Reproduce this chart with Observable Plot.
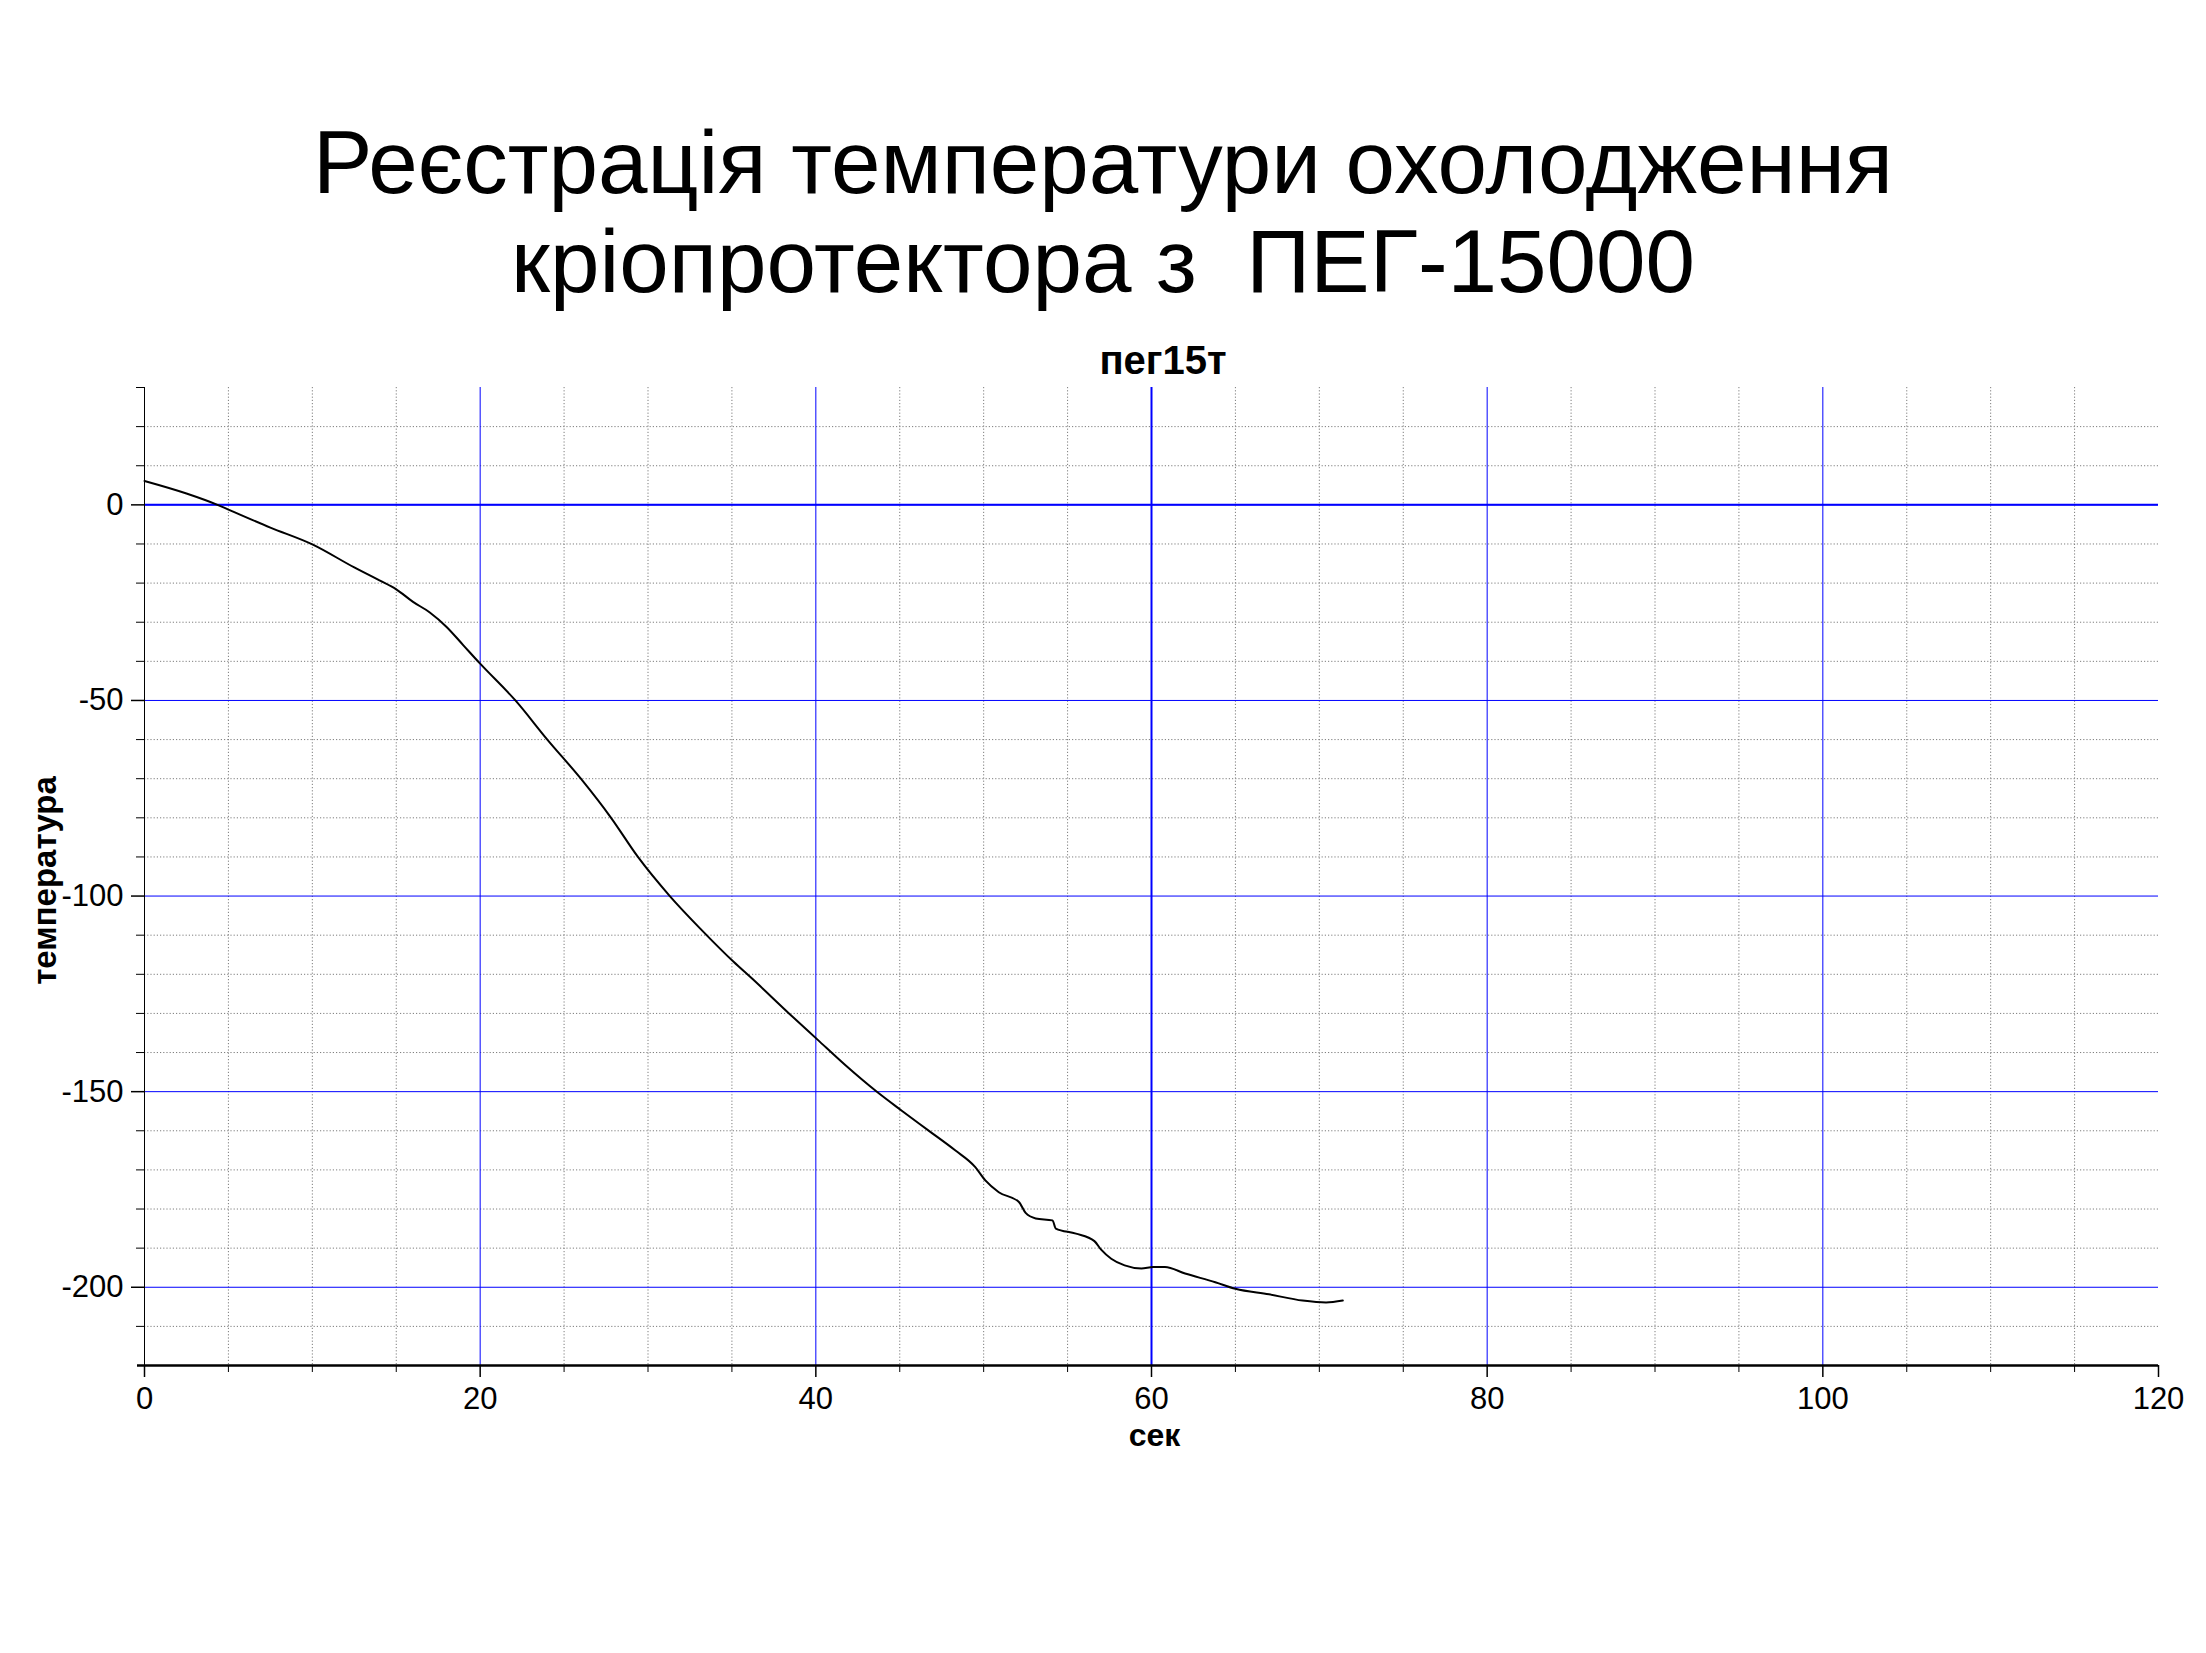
<!DOCTYPE html>
<html>
<head>
<meta charset="utf-8">
<script src="https://cdn.jsdelivr.net/npm/d3@7"></script>
<script src="https://cdn.jsdelivr.net/npm/@observablehq/plot@0.6"></script>
<style>
  html, body { margin: 0; padding: 0; background: #fff; }
  #page { position: relative; width: 2206px; height: 1653px; overflow: hidden; background: #fff; }
  #head { position: relative; height: 380px; }
  .t { position: absolute; left: 0; width: 2206px; text-align: center;
       font-family: "Liberation Sans", Arial, sans-serif; font-size: 89px; line-height: 89px;
       white-space: pre; color: #000; }
  #sub { position: absolute; left: 663px; width: 1000px; top: 340px; text-align: center;
         font-family: "Liberation Sans", Arial, sans-serif; font-weight: bold; font-size: 40px;
         line-height: 40px; color: #000; }
  #chart svg { display: block; }
  #chart svg [aria-label$="tick label"] { font-size: 31px; }
</style>
</head>
<body>
<div id="page">
  <div id="head">
    <div class="t" id="t1" style="top:118px"></div>
    <div class="t" id="t2" style="top:217px"></div>
    <div id="sub"></div>
  </div>
  <div id="chart"></div>
</div>
<script>
// ---- text ----
const titleLine1 = "Реєстрація температури охолодження";
const titleLine2 = "кріопротектора з  ПЕГ-15000";
const subtitle = "пег15т";
const xLabel = "сек";
const yLabel = "температура";

// ---- data: time (s) and temperature ----
const times = [0, 2.5, 4.35, 5, 7.5, 10, 12.5, 14, 15, 16, 17, 18, 19, 20, 22.1, 24, 26, 27.8, 29.4, 31.3, 33.2, 35.1, 36.2, 38.4,
  40.1, 41.7, 43.6, 45.1, 46.7, 48.3, 49.5, 50.1, 50.9, 52.1, 52.5, 53.1, 54.1, 54.3, 55.5, 56.6, 57.0, 57.6,
  58.4, 59.4, 60.1, 60.8, 62.0, 63.8, 65.0, 67.0, 69.0, 70.4, 71.4];
const temps = [6.1, 2.9, 0, -1.2, -5.8, -10.1, -16.0, -19.3, -21.6, -24.8, -27.5, -31.2, -35.9, -40.6, -50, -60, -70, -80, -90, -100, -108.7, -116.8, -121.1, -130,
  -136.7, -143, -149.9, -154.8, -159.9, -165, -169.3, -172.7, -175.7, -178.2, -181, -182.4, -182.9, -185, -186.3, -188.2, -190.4, -192.7,
  -194.4, -195.2, -194.8, -194.8, -196.5, -198.7, -200.4, -201.8, -203.4, -203.9, -203.4];

// ---- ticks / grid ----
const xMajorTicks = [0, 20, 40, 60, 80, 100, 120];
const xMinorTicks = [5, 10, 15, 25, 30, 35, 45, 50, 55, 65, 70, 75, 85, 90, 95, 105, 110, 115];
const xBlueGrid = [20, 40, 60, 80, 100];
const xStrongGrid = [60];
const yMajorTicks = [0, -50, -100, -150, -200];
const yMinorTicks = [30, 20, 10, -10, -20, -30, -40, -60, -70, -80, -90, -110, -120, -130, -140, -160, -170, -180, -190, -210];
const yDottedGrid = [20, 10, -10, -20, -30, -40, -60, -70, -80, -90, -110, -120, -130, -140, -160, -170, -180, -190, -210];
const yBlueGrid = [0, -50, -100, -150, -200];
const yStrongGrid = [0];
const xDomain = [0, 120];
const yDomain = [-220, 30];

document.getElementById("t1").textContent = titleLine1;
document.getElementById("t2").textContent = titleLine2;
document.getElementById("sub").textContent = subtitle;

const rows = times.map((t, i) => ({t, v: temps[i]}));
const FONT = '"Liberation Sans", Arial, sans-serif';
const gray = "#7d7d7d";
const blue = "#0000ff";

const chart = Plot.plot({
  width: 2206,
  height: 1273,
  marginTop: 7,
  marginBottom: 288,
  marginLeft: 144,
  marginRight: 48,
  style: {fontFamily: FONT, fontSize: "31px", color: "#000", background: "#fff", overflow: "visible"},
  x: {domain: xDomain},
  y: {domain: yDomain},
  marks: [
    Plot.ruleX(xMinorTicks, {stroke: gray, strokeDasharray: "1.2,2"}),
    Plot.ruleY(yDottedGrid, {stroke: gray, strokeDasharray: "1.2,2"}),
    Plot.ruleX(xBlueGrid, {stroke: blue, strokeWidth: 1}),
    Plot.ruleY(yBlueGrid, {stroke: blue, strokeWidth: 1}),
    Plot.ruleX(xStrongGrid, {stroke: blue, strokeWidth: 2}),
    Plot.ruleY(yStrongGrid, {stroke: blue, strokeWidth: 2}),
    Plot.ruleX([xDomain[0]], {stroke: "#000", strokeWidth: 1}),
    Plot.ruleY([yDomain[0]], {stroke: "#000", strokeWidth: 2.5, insetLeft: -7}),
    Plot.axisX({ticks: xMajorTicks, tickSize: 12, tickPadding: 9, tickFormat: d => String(d), label: null, fontSize: 31, strokeWidth: 1.5}),
    Plot.axisX({ticks: xMinorTicks, tickSize: 7, tickFormat: () => "", label: null}),
    Plot.axisY({ticks: yMajorTicks, tickSize: 13, tickPadding: 8, tickFormat: d => String(d), label: null, fontSize: 31, strokeWidth: 1.5}),
    Plot.axisY({ticks: yMinorTicks, tickSize: 8, tickFormat: () => "", label: null}),
    Plot.line(rows, {x: "t", y: "v", stroke: "#000", strokeWidth: 2, curve: "monotone-x"}),
    Plot.text([yLabel], {text: d => d, frameAnchor: "left", rotate: -90, dx: -99, dy: 4,
      textAnchor: "middle", fontWeight: "bold", fontSize: 33}),
    Plot.text([xLabel], {text: d => d, frameAnchor: "bottom", dx: 3, dy: 80,
      textAnchor: "middle", fontWeight: "bold", fontSize: 32})
  ]
});
document.getElementById("chart").appendChild(chart);
</script>
</body>
</html>
